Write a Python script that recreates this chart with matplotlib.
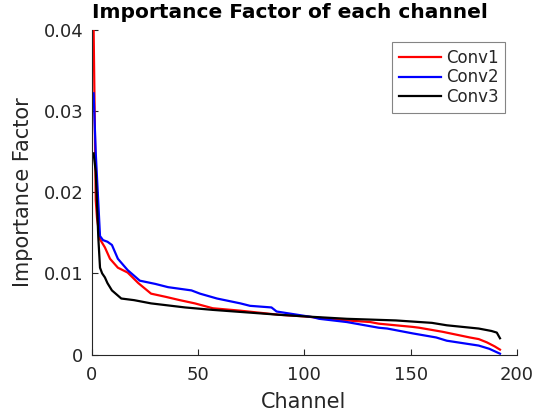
import matplotlib
matplotlib.use('Agg')
import matplotlib.pyplot as plt

# values, (channel, importance factor)
conv1_ch = [1, 2, 2.6, 4.0, 6.3, 8.7, 12.4, 17, 22, 28, 35, 41.5, 48.6,
            57, 70, 88, 100, 120, 131, 135, 151, 154, 165, 177.8, 182, 185.8, 189.5, 192]
conv1_val = [0.0400, 0.0190, 0.0168, 0.0142, 0.0132, 0.0118, 0.0107, 0.0101,
             0.0088, 0.0075, 0.0071, 0.0067, 0.0063, 0.0057, 0.0054, 0.0049, 0.0047,
             0.0042, 0.0040, 0.0038, 0.0034, 0.0033, 0.0028, 0.0021, 0.0019, 0.0015,
             0.0010, 0.0006]

conv2_ch = [1, 2, 4.0, 5.4, 7.5, 9.6, 12.4, 17, 22.7, 30, 36, 41.5, 47, 51, 59,
            70, 74.5, 84.6, 87, 104, 107, 120, 135, 139, 151, 162, 167, 182, 187, 192]
conv2_val = [0.0322, 0.0248, 0.0146, 0.0141, 0.0139, 0.0135, 0.0118, 0.0104, 0.0091,
             0.0087, 0.0083, 0.0081, 0.0079, 0.0075, 0.0069, 0.0063, 0.0060, 0.0058,
             0.0053, 0.0046, 0.0044, 0.0040, 0.0033, 0.0032, 0.0026, 0.0021, 0.0017,
             0.0011, 0.0007, 0.0001]

conv3_ch = [1, 2, 3.2, 4.0, 5.0, 6.3, 7.5, 9.6, 14, 20, 28, 44, 57, 88, 100,
            120, 143, 160, 167, 182, 188, 190.5, 192]
conv3_val = [0.0248, 0.0225, 0.0144, 0.0107, 0.0100, 0.0095, 0.0088, 0.0079, 0.0069,
             0.0067, 0.0063, 0.0058, 0.0055, 0.0049, 0.0047, 0.0044, 0.0042, 0.0039,
             0.0036, 0.0032, 0.0029, 0.0027, 0.0020]

series = [(conv1_ch, conv1_val, 'Conv1', (1, 0, 0)),
          (conv2_ch, conv2_val, 'Conv2', (0, 0, 1)),
          (conv3_ch, conv3_val, 'Conv3', (0, 0, 0))]

W, H = 542, 416
dark = (0.15, 0.15, 0.15)

fig = plt.figure(figsize=(W / 100, H / 100), dpi=100)
ax = fig.add_axes([91.5 / W, (H - 354.5) / H, (517 - 91.5) / W, (354.5 - 30) / H])

for ch, val, name, col in series:
    ax.plot(ch, val, color=col, lw=1.6, label=name)

ax.set_xlim(0, 200)
ax.set_ylim(0, 0.04)
ax.set_xticks([0, 50, 100, 150, 200])
ax.set_yticks([0, 0.01, 0.02, 0.03, 0.04])
ax.set_yticklabels(['0', '0.01', '0.02', '0.03', '0.04'])
ax.spines['top'].set_visible(False)
ax.spines['right'].set_visible(False)
for s in ['left', 'bottom']:
    ax.spines[s].set_color(dark)
    ax.spines[s].set_linewidth(0.8)
ax.tick_params(direction='in', length=4, width=0.8, color=dark, labelcolor=dark,
               labelsize=13)
ax.tick_params(axis='x', pad=8.5)
ax.tick_params(axis='y', pad=6)

leg = ax.legend(loc='upper right', bbox_to_anchor=(505 / W, (H - 42) / H),
                bbox_transform=fig.transFigure, borderaxespad=0, fontsize=12,
                fancybox=False, handlelength=2.5, handletextpad=0.3,
                borderpad=0.4, labelspacing=0.1)
leg.get_frame().set_edgecolor((0.4, 0.4, 0.4))
leg.get_frame().set_linewidth(0.8)
for t in leg.get_texts():
    t.set_color(dark)

fig.text(290 / W, (H - 18) / H, 'Importance Factor of each channel', fontsize=14.5,
         fontweight='bold', ha='center', va='baseline', color='black')
fig.text(304 / W, (H - 408) / H, 'Channel', fontsize=15, ha='center', va='baseline',
         color=dark)
fig.text(23 / W, (H - 192) / H, 'Importance Factor', fontsize=15, rotation=90,
         ha='center', va='center', color=dark)

fig.savefig('out.png', dpi=100)
